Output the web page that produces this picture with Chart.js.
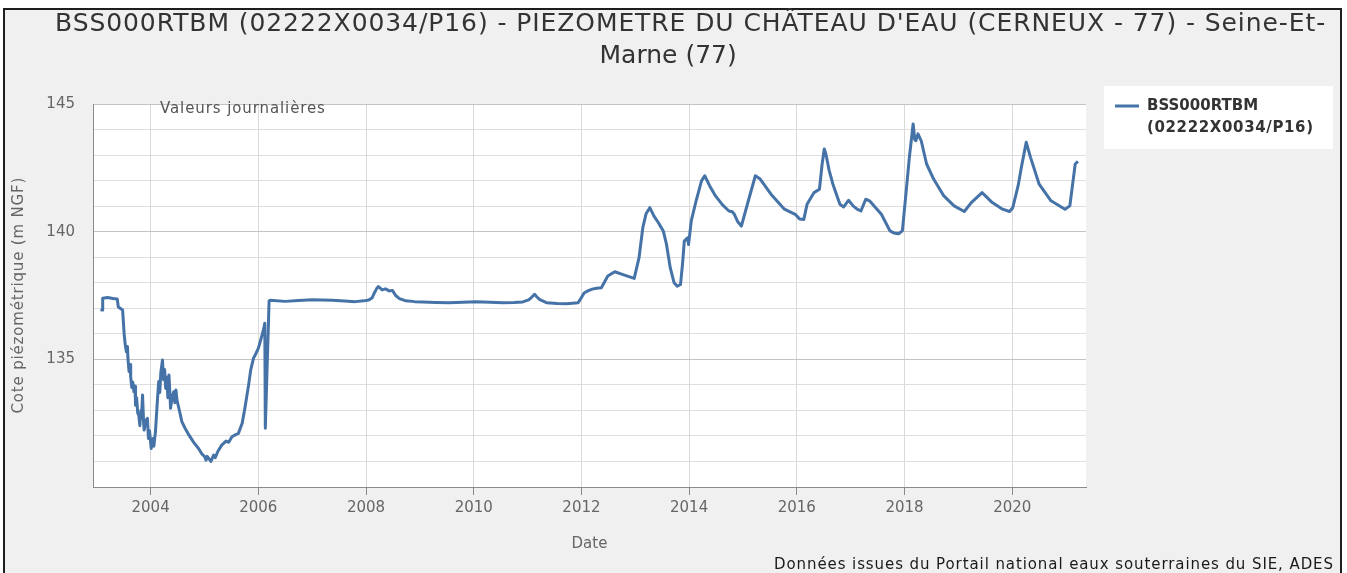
<!DOCTYPE html>
<html>
<head>
<meta charset="utf-8">
<title>Piézomètre BSS000RTBM</title>
<script src="https://cdn.jsdelivr.net/npm/chart.js@4/dist/chart.umd.min.js"></script>
<style>
  html, body { margin: 0; padding: 0; background: #fff; }
  #frame {
    position: absolute; left: 3px; top: 8px;
    width: 1335px; height: 620px;
    border: 2px solid #1e1e1e; background: #f0f0f0;
  }
  #wrap { position: absolute; left: 0; top: 0; width: 1347px; height: 573px; }
</style>
</head>
<body>
<div id="frame"></div>
<div id="wrap"><canvas id="piezoChart"></canvas></div>
<script>
// decimal year of each reading
const dates = [
  2003.07, 2003.10, 2003.11, 2003.20, 2003.30, 2003.38, 2003.40, 2003.48, 2003.51, 2003.53, 2003.55,
  2003.57, 2003.58, 2003.60, 2003.62, 2003.63, 2003.65, 2003.67, 2003.69, 2003.71, 2003.72, 2003.74,
  2003.76, 2003.78, 2003.80, 2003.82, 2003.83, 2003.85, 2003.87, 2003.88, 2003.91, 2003.94, 2003.96,
  2003.98, 2004.01, 2004.03, 2004.04, 2004.06, 2004.09, 2004.12, 2004.15, 2004.17, 2004.19, 2004.22,
  2004.24, 2004.26, 2004.28, 2004.30, 2004.32, 2004.34, 2004.36, 2004.37, 2004.40, 2004.43, 2004.45,
  2004.47, 2004.49, 2004.51, 2004.55, 2004.58, 2004.64, 2004.71, 2004.80, 2004.89, 2004.95, 2005.00,
  2005.03, 2005.05, 2005.08, 2005.12, 2005.15, 2005.17, 2005.20, 2005.25, 2005.32, 2005.40, 2005.45,
  2005.51, 2005.58, 2005.63, 2005.70, 2005.75, 2005.82, 2005.86, 2005.91, 2005.95, 2006.00, 2006.05,
  2006.10, 2006.12, 2006.13, 2006.20,
  2006.22, 2006.50, 2006.75, 2007.00, 2007.18, 2007.37, 2007.60, 2007.80, 2007.96, 2008.05,
  2008.11, 2008.16, 2008.20, 2008.23, 2008.30, 2008.36, 2008.43, 2008.49, 2008.55, 2008.62,
  2008.74, 2008.90, 2009.05, 2009.30, 2009.54, 2009.80, 2010.04, 2010.30, 2010.54, 2010.75,
  2010.91, 2011.02, 2011.07, 2011.13, 2011.17, 2011.22, 2011.35, 2011.55, 2011.72, 2011.94,
  2012.00, 2012.05, 2012.11, 2012.20, 2012.28, 2012.37, 2012.49, 2012.62, 2012.80, 2012.98,
  2013.07, 2013.14, 2013.20, 2013.27, 2013.35, 2013.43, 2013.52, 2013.58, 2013.65, 2013.72,
  2013.78, 2013.84, 2013.88, 2013.91, 2013.97, 2013.99, 2014.04, 2014.13, 2014.23, 2014.29,
  2014.38, 2014.49, 2014.62, 2014.74, 2014.80, 2014.84, 2014.90, 2014.97, 2015.10, 2015.23,
  2015.32, 2015.52, 2015.77, 2015.97, 2016.05, 2016.13, 2016.19, 2016.32, 2016.42, 2016.47,
  2016.51, 2016.54, 2016.60, 2016.67, 2016.80, 2016.87, 2016.96, 2017.05, 2017.12, 2017.19,
  2017.28, 2017.35, 2017.57, 2017.73, 2017.80, 2017.89, 2017.96, 2018.02, 2018.09, 2018.16,
  2018.19, 2018.21, 2018.25, 2018.31, 2018.41, 2018.54, 2018.73, 2018.92, 2019.11, 2019.24,
  2019.44, 2019.63, 2019.82, 2019.95, 2020.01, 2020.11, 2020.17, 2020.26, 2020.34, 2020.50,
  2020.72, 2020.98, 2021.07, 2021.17, 2021.22
];

// cote piézométrique (m NGF)
const levels = [
  136.95, 136.93, 137.39, 137.42, 137.38, 137.36, 137.05, 136.93, 135.95, 135.55, 135.30,
  135.50, 135.00, 134.52, 134.80, 134.30, 133.90, 134.10, 133.73, 133.95, 133.20, 133.50,
  132.90, 132.82, 132.40, 133.00, 132.70, 133.60, 132.50, 132.23, 132.60, 132.69, 131.90,
  132.20, 131.51, 131.85, 131.90, 131.60, 132.17, 133.20, 134.13, 133.70, 134.50, 134.97,
  134.20, 134.60, 133.86, 134.30, 133.50, 134.39, 133.60, 133.08, 133.50, 133.73, 133.30,
  133.80, 133.40, 133.21, 132.85, 132.56, 132.30, 132.04, 131.75, 131.51, 131.30, 131.20,
  131.05, 131.20, 131.12, 131.00, 131.15, 131.25, 131.15, 131.40, 131.64, 131.80, 131.75,
  131.97, 132.05, 132.10, 132.50, 133.08, 134.00, 134.60, 135.04, 135.20, 135.43, 135.80,
  136.20, 136.41, 132.30, 137.29,
  137.31, 137.27, 137.30, 137.33, 137.32, 137.31, 137.28, 137.26, 137.29, 137.32,
  137.40, 137.62, 137.78, 137.85, 137.72, 137.76, 137.68, 137.70, 137.50, 137.38,
  137.29, 137.26, 137.25, 137.23, 137.22, 137.24, 137.26, 137.24, 137.22, 137.23,
  137.25, 137.33, 137.42, 137.55, 137.45, 137.35, 137.22, 137.19, 137.18, 137.22,
  137.42, 137.60, 137.67, 137.75, 137.78, 137.80, 138.26, 138.43, 138.30, 138.17,
  138.98, 140.16, 140.70, 140.94, 140.60, 140.35, 140.03, 139.50, 138.58, 138.00,
  137.86, 137.93, 138.80, 139.63, 139.76, 139.50, 140.42, 141.21, 141.99, 142.19,
  141.80, 141.40, 141.05, 140.81, 140.78, 140.68, 140.40, 140.22, 141.21, 142.19,
  142.06, 141.47, 140.88, 140.68, 140.50, 140.48, 141.07, 141.53, 141.66, 142.65,
  143.24, 143.04, 142.40, 141.86, 141.07, 140.97, 141.23, 141.00, 140.88, 140.81,
  141.27, 141.21, 140.68, 140.03, 139.95, 139.92, 140.03, 141.34, 142.91, 144.22,
  143.60, 143.56, 143.83, 143.56, 142.65, 142.06, 141.40, 141.01, 140.79, 141.14,
  141.53, 141.14, 140.88, 140.79, 140.94, 141.80, 142.52, 143.50, 142.91, 141.86,
  141.21, 140.88, 141.01, 142.65, 142.75
];

const yearTicks = [2004, 2006, 2008, 2010, 2012, 2014, 2016, 2018, 2020];

const seriesName = ['BSS000RTBM', '(02222X0034/P16)'];
const titleLines = [
  "BSS000RTBM (02222X0034/P16) - PIEZOMETRE DU CHÂTEAU D'EAU (CERNEUX - 77) - Seine-Et-",
  'Marne (77)'
];
const subLabel = 'Valeurs journalières';
const yTitle = 'Cote piézométrique (m NGF)';
const sourceNote = 'Données issues du Portail national eaux souterraines du SIE, ADES';

const FONT = "'DejaVu Sans', sans-serif";
const LINE_COLOR = '#4572a7';

// draw text stretched with letter spacing so that it spans `width` px
function spacedText(ctx, text, x, y, width, align) {
  ctx.letterSpacing = '0px';
  const w0 = ctx.measureText(text).width;
  const sp = Math.max(0, (width - w0) / (text.length - 1));
  ctx.letterSpacing = sp.toFixed(2) + 'px';
  ctx.textAlign = 'left';
  let x0 = x;
  if (align === 'center') x0 = x - width / 2;
  if (align === 'right') x0 = x - width;
  ctx.fillText(text, x0, y);
  ctx.letterSpacing = '0px';
}

const decorPlugin = {
  id: 'decor',
  beforeDraw(chart) {
    const { ctx, chartArea: a } = chart;
    ctx.save();
    ctx.fillStyle = '#ffffff';
    ctx.fillRect(a.left, a.top, a.right - a.left, a.bottom - a.top);
    ctx.restore();
  },
  afterDraw(chart) {
    const { ctx, chartArea: a } = chart;
    ctx.save();
    ctx.textBaseline = 'middle';

    // title
    ctx.fillStyle = '#333333';
    ctx.font = '25px ' + FONT;
    spacedText(ctx, titleLines[0], 55, 24, 1270, 'left');
    spacedText(ctx, titleLines[1], 667, 56, 135, 'center');

    // legend
    ctx.fillStyle = '#ffffff';
    ctx.fillRect(1104, 86, 229, 63);
    ctx.strokeStyle = LINE_COLOR;
    ctx.lineWidth = 3;
    ctx.beginPath();
    ctx.moveTo(1115, 106);
    ctx.lineTo(1139, 106);
    ctx.stroke();
    ctx.fillStyle = '#333333';
    ctx.font = 'bold 15px ' + FONT;
    spacedText(ctx, seriesName[0], 1147, 106, 111, 'left');
    spacedText(ctx, seriesName[1], 1147, 128, 166, 'left');

    // label inside the plot
    ctx.fillStyle = '#555555';
    ctx.font = '15px ' + FONT;
    spacedText(ctx, subLabel, 160, 109, 165, 'left');

    // y axis title
    ctx.fillStyle = '#666666';
    ctx.save();
    ctx.translate(19, (a.top + a.bottom) / 2);
    ctx.rotate(-Math.PI / 2);
    spacedText(ctx, yTitle, 0, 0, 236, 'center');
    ctx.restore();

    // source
    ctx.fillStyle = '#1a1a1a';
    spacedText(ctx, sourceNote, 1333, 565, 559, 'right');
    ctx.restore();
  }
};

const ctx = document.getElementById('piezoChart');
new Chart(ctx, {
  type: 'line',
  data: {
    datasets: [{
      label: seriesName.join(' '),
      data: dates.map((d, i) => ({ x: d, y: levels[i] })),
      borderColor: LINE_COLOR,
      borderWidth: 3,
      pointRadius: 0,
      tension: 0,
      borderJoinStyle: 'round',
      fill: false
    }]
  },
  options: {
    responsive: true,
    maintainAspectRatio: false,
    animation: false,
    layout: { padding: { left: 0, right: 261, top: 104, bottom: 0 } },
    plugins: {
      legend: { display: false },
      tooltip: { enabled: false },
      title: { display: false }
    },
    scales: {
      x: {
        type: 'linear',
        min: 2002.93,
        max: 2021.37,
        afterBuildTicks: (scale) => { scale.ticks = yearTicks.map(v => ({ value: v })); },
        afterFit: (scale) => { scale.height = 86; },
        ticks: {
          color: '#666666',
          font: { family: FONT, size: 15 },
          padding: 4,
          maxRotation: 0,
          callback: (v) => String(v)
        },
        grid: { color: '#d9d9d9', tickColor: '#8a8a8a', tickLength: 8 },
        border: { display: true, color: '#8a8a8a' },
        title: {
          display: true,
          text: 'Date',
          color: '#666666',
          font: { family: FONT, size: 15 },
          padding: { top: 4, bottom: 20 }
        }
      },
      y: {
        min: 130,
        max: 145,
        afterFit: (scale) => { scale.width = 93; },
        ticks: {
          stepSize: 1,
          color: '#666666',
          font: { family: FONT, size: 15 },
          padding: 18,
          callback: (v) => (v % 5 === 0 && v > 130 ? String(v) : '')
        },
        grid: {
          drawTicks: false,
          color: (c) => (c.tick && c.tick.value % 5 === 0 ? '#c4c4c4' : '#dedede')
        },
        border: { display: true, color: '#8a8a8a' }
      }
    }
  },
  plugins: [decorPlugin]
});
</script>
</body>
</html>
